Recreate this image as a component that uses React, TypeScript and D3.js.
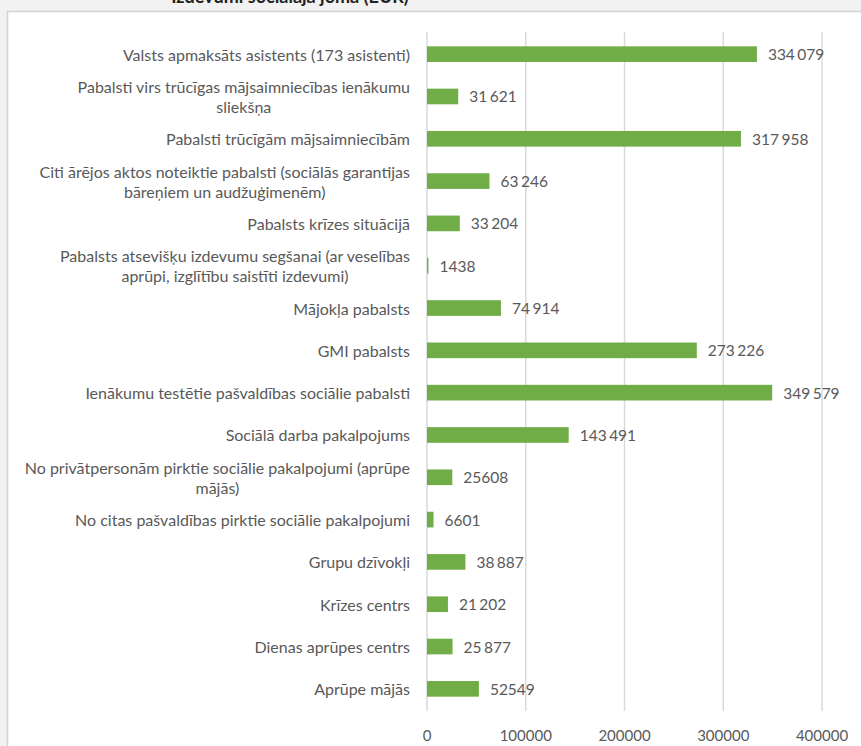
import React, { useEffect, useRef } from "react";
import * as d3 from "d3";

const categories: string[] = [
  "Valsts apmaksāts asistents (173 asistenti)",
  "Pabalsti virs trūcīgas mājsaimniecības ienākumu\nsliekšņa",
  "Pabalsti trūcīgām mājsaimniecībām",
  "Citi ārējos aktos noteiktie pabalsti (sociālās garantijas\nbāreņiem un audžuģimenēm)",
  "Pabalsts krīzes situācijā",
  "Pabalsts atsevišķu izdevumu segšanai (ar veselības\naprūpi, izglītību saistīti izdevumi)",
  "Mājokļa pabalsts",
  "GMI pabalsts",
  "Ienākumu testētie pašvaldības sociālie pabalsti",
  "Sociālā darba pakalpojums",
  "No privātpersonām pirktie sociālie pakalpojumi (aprūpe\nmājās)",
  "No citas pašvaldības pirktie sociālie pakalpojumi",
  "Grupu dzīvokļi",
  "Krīzes centrs",
  "Dienas aprūpes centrs",
  "Aprūpe mājās",
];

const values: number[] = [
  334079, 31621, 317958, 63246, 33204, 1438, 74914, 273226, 349579, 143491,
  25608, 6601, 38887, 21202, 25877, 52549,
];

const valueLabels: string[] = [
  "334 079", "31 621", "317 958", "63 246", "33 204", "1438", "74 914",
  "273 226", "349 579", "143 491", "25608", "6601", "38 887", "21 202",
  "25 877", "52549",
];

const xTicks: number[] = [0, 100000, 200000, 300000, 400000];

const titleText = "Izdevumi sociālajā jomā (EUR)";

const W = 861;
const H = 746;
const FONT = "Lato, 'Open Sans', sans-serif";
const TXT = "#595959";

export default function App() {
  const ref = useRef<SVGSVGElement | null>(null);

  useEffect(() => {
    const svg = d3.select(ref.current);
    svg.selectAll("*").remove();

    svg.append("rect").attr("x", 0).attr("y", 0).attr("width", W).attr("height", H).attr("fill", "#f2f2f2");

    svg.append("text")
      .attr("x", 290).attr("y", 3)
      .attr("text-anchor", "middle")
      .attr("font-family", FONT).attr("font-size", 18).attr("font-weight", 700)
      .attr("fill", "#222")
      .text(titleText);

    svg.append("rect")
      .attr("x", 7.5).attr("y", 11.5).attr("width", W + 10).attr("height", H + 10)
      .attr("fill", "#ffffff").attr("stroke", "#d3d3d3").attr("stroke-width", 1.5);

    const x = d3.scaleLinear().domain([0, 400000]).range([427, 822]);
    const y = d3.scaleBand<string>().domain(categories).range([33, 710])
      .paddingInner(0.63).paddingOuter(0.315);

    const g = svg.append("g");

    g.selectAll("line.grid").data(xTicks).join("line")
      .attr("class", "grid")
      .attr("x1", (d) => x(d)).attr("x2", (d) => x(d))
      .attr("y1", 32).attr("y2", 711)
      .attr("stroke", "#d9d9d9").attr("stroke-width", 1.5);

    g.selectAll("text.tick").data(xTicks).join("text")
      .attr("class", "tick")
      .attr("x", (d) => x(d)).attr("y", 735)
      .attr("text-anchor", "middle").attr("dominant-baseline", "central")
      .attr("font-family", FONT).attr("font-size", 15).attr("fill", TXT)
      .text((d) => String(d));

    g.selectAll("rect.bar").data(values).join("rect")
      .attr("class", "bar")
      .attr("x", x(0))
      .attr("y", (_d, i) => y(categories[i]) as number)
      .attr("width", (d) => x(d) - x(0))
      .attr("height", y.bandwidth())
      .attr("fill", "#70ad47");

    g.selectAll("text.val").data(values).join("text")
      .attr("class", "val")
      .attr("x", (d) => x(d) + 11)
      .attr("y", (_d, i) => (y(categories[i]) as number) + y.bandwidth() / 2)
      .attr("dominant-baseline", "central")
      .attr("font-family", FONT).attr("font-size", 15.5).attr("fill", TXT)
      .attr("word-spacing", -1.5)
      .text((_d, i) => valueLabels[i]);

    const labelRight = 410;
    const lineH = 20;
    categories.forEach((c) => {
      const lines = c.split("\n");
      const cy = (y(c) as number) + y.bandwidth() / 2;
      const t0 = g.append("text")
        .attr("x", labelRight)
        .attr("y", lines.length === 1 ? cy : cy - lineH / 2)
        .attr("text-anchor", "end").attr("dominant-baseline", "central")
        .attr("font-family", FONT).attr("font-size", 16).attr("fill", TXT)
        .text(lines[0]);
      if (lines.length > 1) {
        const w0 = (t0.node() as SVGTextElement).getComputedTextLength();
        g.append("text")
          .attr("x", labelRight - w0 / 2)
          .attr("y", cy + lineH / 2)
          .attr("text-anchor", "middle").attr("dominant-baseline", "central")
          .attr("font-family", FONT).attr("font-size", 16).attr("fill", TXT)
          .text(lines[1]);
      }
    });
  }, []);

  return (
    <svg
      ref={ref}
      width={W}
      height={H}
      style={{ position: "absolute", left: 0, top: 0, display: "block" }}
    />
  );
}
